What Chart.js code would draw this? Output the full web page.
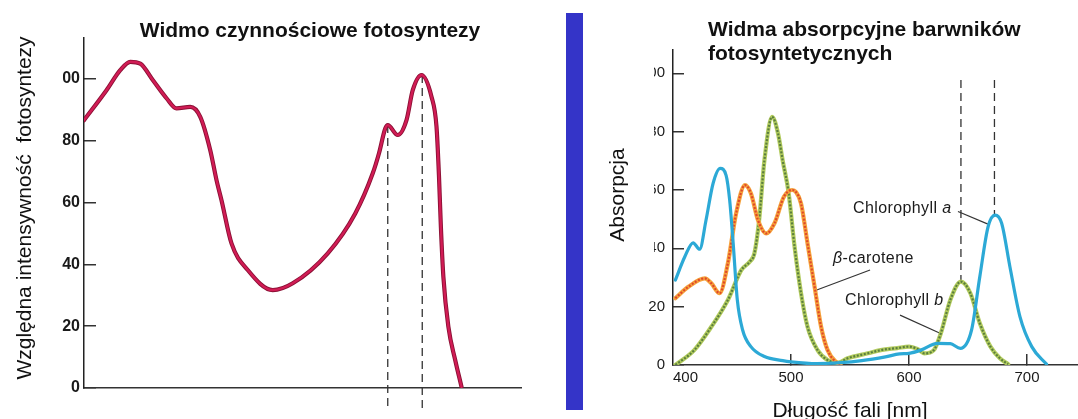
<!DOCTYPE html>
<html><head><meta charset="utf-8">
<script src="https://cdn.jsdelivr.net/npm/chart.js@4.4.1/dist/chart.umd.min.js"></script>
<style>
html,body{margin:0;padding:0;background:#fff;width:1078px;height:419px;overflow:hidden;}
#wrap{position:relative;width:1078px;height:419px;background:#fff;}
canvas{position:absolute;top:0;}
#cl{left:0;width:560px;height:419px;}
#cr{left:590px;width:488px;height:419px;}
#bar{position:absolute;left:566px;top:13px;width:17px;height:397px;background:#3434C8;}
.mask{position:absolute;background:#fff;z-index:5;}
</style></head><body>
<div id="wrap">
<canvas id="cl" width="560" height="419"></canvas>
<div id="bar"></div>
<canvas id="cr" width="488" height="419"></canvas>
<div class="mask" style="left:44px;top:68px;width:18.5px;height:22px"></div>
<div class="mask" style="left:629px;top:58px;width:25px;height:205px"></div>
</div>
<script>
// ---------- DATA: action spectrum (left) ----------
const actionWavelength = [400, 418, 429, 437, 445, 455, 466, 474, 485, 493, 501, 506, 510, 518, 531, 551, 567, 595, 617, 631, 636, 641, 643, 651, 658, 663, 670, 678, 682, 684, 685.5, 687.5, 691.5, 697, 702];
const actionIntensity  = [86.7, 96.4, 102.9, 105.6, 105, 99.7, 93.8, 90.5, 91, 87.8, 77, 67.3, 60.8, 46.8, 38.2, 31.7, 33.9, 43.6, 56.5, 69.5, 76, 84, 85.1, 81.9, 86.7, 96.4, 101.3, 94.3, 84.6, 68.4, 52.2, 36, 19.8, 9, 0.4];
const actionDashWavelength = [643, 670.6];
const actionDashTop = [85.1, 101.3];
const actionDashBottom = [-7, -7];
const actionYTicks = [0, 20, 40, 60, 80, 100];

// ---------- DATA: absorption spectra (right) ----------
const chlAWavelength = [402, 410, 417, 422.6, 428, 434, 440, 445, 448, 451, 454.5, 459, 466, 477.5, 493, 500, 522, 542, 560, 580, 592, 600, 610, 624, 635, 643.5, 653, 660, 667, 673, 678.5, 685.5, 694, 704, 716.5];
const chlAAbsorption = [29.1, 37.1, 41.9, 39.7, 49.7, 62.3, 67.4, 65, 56.6, 41.7, 22.3, 12, 6.3, 2.9, 1.5, 1.1, 0.5, 0.8, 1.5, 2.8, 3.8, 4, 5.1, 7.4, 7.3, 5.7, 12, 30.3, 47.4, 51.4, 48.6, 33.7, 16.6, 6.3, 0.3];
const caroteneWavelength = [402, 413, 427, 432.5, 439.5, 446.5, 453.5, 461, 466, 472, 479, 486, 494, 501, 504, 508.5, 514, 520, 525.5, 531, 538, 542];
const caroteneAbsorption = [22.9, 26.8, 29.7, 28, 24.6, 34.9, 52, 61.7, 58.9, 49.7, 45.1, 48.6, 57.7, 60, 59.4, 55.4, 41.7, 26.8, 13.1, 5.1, 1.1, 0.3];
const chlBWavelength = [402, 418, 432.5, 446.5, 458, 465, 469, 473, 477.5, 484, 489, 493, 498, 503, 508.5, 514, 522.5, 531, 540, 548, 565, 576, 590, 600, 607, 613, 621, 627, 635, 644, 652, 660, 669, 677, 684];
const chlBAbsorption = [0, 5.1, 13.1, 22.3, 32.6, 35.4, 38.3, 49.7, 70.3, 85.1, 79.4, 70, 59, 40.6, 24.6, 13.1, 5.1, 1.7, 0.8, 2.3, 4, 5.1, 5.8, 6.3, 5.5, 4, 5.1, 10.9, 22.3, 28.6, 24.6, 14.3, 6.3, 2.3, 0.3];
const absDashWavelength = [644, 672.4];
const absDashTop = [97.7, 97.7];
const absDashBottom = [28.6, 51.4];
const chlALeaderX = [641.5, 666.9], chlALeaderY = [52.6, 48.3];
const caroteneLeaderX = [567, 521.8], caroteneLeaderY = [32.6, 25.7];
const chlBLeaderX = [592.4, 626.3], chlBLeaderY = [17.1, 10.9];
const absXTicks = [400, 500, 600, 700];
const absYTicks = [0, 20, 40, 60, 80, 100];

// ---------- TEXT ----------
const leftTitle = 'Widmo czynnościowe fotosyntezy';
const leftYTitle = 'Względna intensywność  fotosyntezy';
const rightTitle = ['Widma absorpcyjne barwników', 'fotosyntetycznych'];
const rightYTitle = 'Absorpcja';
const rightXTitle = 'Długość fali [nm]';

const FONT = "'Liberation Sans', Arial, Helvetica, sans-serif";
Chart.defaults.font.family = FONT;
Chart.defaults.color = '#222';

const pts = (xs, ys) => xs.map((x, i) => ({x: x, y: ys[i]}));
const vline = (x, y0, y1) => [{x: x, y: y0}, {x: x, y: y1}];

const textPlugin = {
  id: 'texts',
  afterDraw(chart, args, opts) {
    const ctx = chart.ctx;
    for (const t of (opts.items || [])) {
      let x = t.x, y = t.y;
      if (t.dataX !== undefined) {
        x = chart.scales.x.getPixelForValue(t.dataX);
        y = chart.scales.y.getPixelForValue(t.dataY);
      }
      ctx.save();
      ctx.translate(x, y);
      if (t.rotate) ctx.rotate(t.rotate);
      ctx.textAlign = t.align || 'left';
      ctx.textBaseline = 'alphabetic';
      ctx.fillStyle = t.color || '#111';
      if (t.spacing) ctx.letterSpacing = t.spacing;
      if (t.parts) {
        let cx = 0;
        for (const p of t.parts) {
          ctx.font = p.font;
          ctx.fillText(p.text, cx, 0);
          cx += ctx.measureText(p.text).width;
        }
      } else {
        ctx.font = t.font;
        ctx.fillText(t.text, 0, 0);
      }
      ctx.restore();
    }
  }
};

const noPad = s => { s.paddingLeft = 0; s.paddingRight = 0; s.paddingTop = 0; s.paddingBottom = 0; };
const curve = {pointRadius: 0, cubicInterpolationMode: 'monotone', borderCapStyle: 'round', borderJoinStyle: 'round'};

// ---------- LEFT CHART (first dataset in list is drawn on top) ----------
const dashStyle = {borderColor: '#333', borderWidth: 1.3, borderDash: [8, 5], pointRadius: 0, clip: false};
new Chart(document.getElementById('cl'), {
  type: 'line',
  data: {
    datasets: [
      Object.assign({data: pts(actionWavelength, actionIntensity), borderColor: '#D11C55', borderWidth: 2.4}, curve),
      Object.assign({data: pts(actionWavelength, actionIntensity), borderColor: '#8A1034', borderWidth: 4.2}, curve),
      Object.assign({data: vline(actionDashWavelength[0], actionDashTop[0], actionDashBottom[0])}, dashStyle),
      Object.assign({data: vline(actionDashWavelength[1], actionDashTop[1], actionDashBottom[1])}, dashStyle)
    ]
  },
  options: {
    responsive: false, animation: false, devicePixelRatio: 1,
    layout: {padding: {top: 38, left: 0, right: 39, bottom: 0}},
    plugins: {
      legend: {display: false}, tooltip: {enabled: false},
      texts: {items: [
        {text: leftTitle, x: 310, y: 37, align: 'center', font: 'bold 21px ' + FONT, color: '#111'},
        {text: leftYTitle, x: 31, y: 208, rotate: -Math.PI / 2, align: 'center', font: '21px ' + FONT, color: '#111'}
      ]}
    },
    scales: {
      x: {type: 'linear', min: 400, max: 749.6,
          ticks: {display: false}, grid: {display: false, drawTicks: false},
          border: {display: true, color: '#333', width: 1.5},
          afterFit: s => { s.height = 31; noPad(s); }},
      y: {type: 'linear', min: 0, max: 113.3,
          afterBuildTicks: s => { s.ticks = actionYTicks.map(v => ({value: v})); },
          ticks: {font: {size: 16, weight: 'bold'}, color: '#1a1a1a', padding: 16},
          grid: {drawOnChartArea: false, drawTicks: true, tickLength: -12, color: '#333', lineWidth: 1.5},
          border: {display: true, color: '#222', width: 1.5},
          afterFit: s => { s.width = 84; noPad(s); }}
    }
  },
  plugins: [textPlugin]
});

// ---------- RIGHT CHART (first dataset in list is drawn on top) ----------
const leaderStyle = {borderColor: '#333', borderWidth: 1.1, pointRadius: 0};
new Chart(document.getElementById('cr'), {
  type: 'line',
  data: {
    datasets: [
      Object.assign({label: 'Chlorophyll a', data: pts(chlAWavelength, chlAAbsorption), borderColor: '#2CA9D6', borderWidth: 3.2}, curve),
      Object.assign({label: 'β-carotene', data: pts(caroteneWavelength, caroteneAbsorption), borderColor: '#E0482A', borderWidth: 2.2,
       borderDash: [2, 1.6]}, curve, {borderCapStyle: 'butt'}),
      Object.assign({label: 'β-carotene', data: pts(caroteneWavelength, caroteneAbsorption), borderColor: '#F5A23C', borderWidth: 4.2}, curve),
      Object.assign({label: 'Chlorophyll b', data: pts(chlBWavelength, chlBAbsorption), borderColor: '#5A7E3E', borderWidth: 2.2,
       borderDash: [2, 1.6]}, curve, {borderCapStyle: 'butt'}),
      Object.assign({label: 'Chlorophyll b', data: pts(chlBWavelength, chlBAbsorption), borderColor: '#B2CB5E', borderWidth: 4.2}, curve),
      Object.assign({data: pts(chlALeaderX, chlALeaderY)}, leaderStyle),
      Object.assign({data: pts(caroteneLeaderX, caroteneLeaderY)}, leaderStyle),
      Object.assign({data: pts(chlBLeaderX, chlBLeaderY)}, leaderStyle),
      Object.assign({data: vline(absDashWavelength[0], absDashTop[0], absDashBottom[0])}, dashStyle),
      Object.assign({data: vline(absDashWavelength[1], absDashTop[1], absDashBottom[1])}, dashStyle)
    ]
  },
  options: {
    responsive: false, animation: false, devicePixelRatio: 1,
    layout: {padding: {top: 50, left: 0, right: 0, bottom: 0}},
    plugins: {
      legend: {display: false}, tooltip: {enabled: false},
      texts: {items: [
        {text: rightTitle[0], x: 118, y: 36, font: 'bold 21px ' + FONT, color: '#111'},
        {text: rightTitle[1], x: 118, y: 60, font: 'bold 21px ' + FONT, color: '#111'},
        {text: rightYTitle, x: 34, y: 195, rotate: -Math.PI / 2, align: 'center', font: '21px ' + FONT, color: '#111'},
        {text: rightXTitle, x: 260, y: 417, align: 'center', font: '21px ' + FONT, color: '#111'},
        {dataX: 552.5, dataY: 52, spacing: '0.4px', color: '#1a1a1a',
         parts: [{text: 'Chlorophyll ', font: '16px ' + FONT}, {text: 'a', font: 'italic 16px ' + FONT}]},
        {dataX: 535.6, dataY: 34.9, spacing: '0.4px', color: '#1a1a1a',
         parts: [{text: 'β', font: 'italic 16px ' + FONT}, {text: '-carotene', font: '16px ' + FONT}]},
        {dataX: 545.8, dataY: 20.6, spacing: '0.4px', color: '#1a1a1a',
         parts: [{text: 'Chlorophyll ', font: '16px ' + FONT}, {text: 'b', font: 'italic 16px ' + FONT}]}
      ]}
    },
    scales: {
      x: {type: 'linear', min: 400, max: 743.2,
          afterBuildTicks: s => { s.ticks = absXTicks.concat([s.max]).map(v => ({value: v})); },
          ticks: {align: 'inner', font: {size: 15}, color: '#1a1a1a', padding: 15, maxRotation: 0,
                  callback: v => absXTicks.includes(v) ? String(v) : ''},
          grid: {drawOnChartArea: false, drawTicks: true, tickLength: -11, lineWidth: 1.5,
                 color: c => (c.tick && absXTicks.includes(c.tick.value) && c.tick.value !== 400) ? '#333' : 'rgba(0,0,0,0)'},
          border: {display: true, color: '#333', width: 1.5},
          afterFit: s => { s.height = 54; noPad(s); }},
      y: {type: 'linear', min: 0, max: 108,
          afterBuildTicks: s => { s.ticks = absYTicks.map(v => ({value: v})); },
          ticks: {font: {size: 15}, color: '#1a1a1a', padding: 19},
          grid: {drawOnChartArea: false, drawTicks: true, tickLength: -11, color: '#333', lineWidth: 1.5},
          border: {display: true, color: '#222', width: 1.5},
          afterFit: s => { s.width = 83; noPad(s); }}
    }
  },
  plugins: [textPlugin]
});
</script>
</body></html>
